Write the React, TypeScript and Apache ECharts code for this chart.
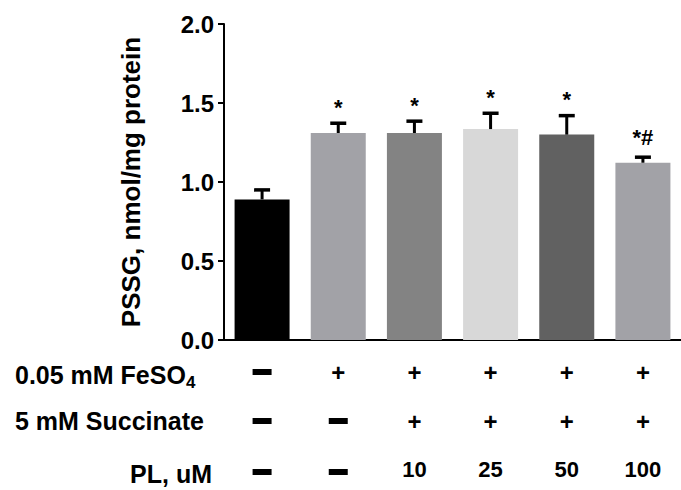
import React, { useEffect, useRef } from 'react';
import * as echarts from 'echarts';

const categories = ['Control', 'FeSO4', 'FeSO4+Succ+PL10', 'FeSO4+Succ+PL25', 'FeSO4+Succ+PL50', 'FeSO4+Succ+PL100'];
const means = [0.89, 1.31, 1.31, 1.335, 1.3, 1.122];
const sems = [0.06, 0.062, 0.075, 0.1, 0.12, 0.035];
const barColors = ['#000000', '#a2a2a7', '#838383', '#d8d8d8', '#616161', '#a2a2a7'];
const significance = ['', '*', '*', '*', '*', '*#'];
const yMin = 0;
const yMax = 2;
const yInterval = 0.5;
const feso4Row = ['-', '+', '+', '+', '+', '+'];
const succinateRow = ['-', '-', '+', '+', '+', '+'];
const plRow = ['-', '-', '10', '25', '50', '100'];
const yAxisTitle = 'PSSG, nmol/mg protein';
const rowLabels = ['0.05 mM FeSO{sub|4}', '5 mM Succinate', 'PL, uM'];

const FONT = "'Liberation Sans', Arial, Helvetica, sans-serif";

export default function App() {
  const ref = useRef<HTMLDivElement>(null);

  useEffect(() => {
    document.body.style.margin = '0';
    const chart = echarts.init(ref.current!, null, { renderer: 'svg' });
    chart.setOption({
      animation: false,
      backgroundColor: '#ffffff',
      grid: { left: 224, top: 24, width: 464, height: 316, containLabel: false },
      xAxis: {
        type: 'category',
        data: categories,
        axisLine: { lineStyle: { color: '#000', width: 2 } },
        axisTick: { alignWithLabel: true, length: 7, lineStyle: { color: '#000', width: 2 } },
        axisLabel: { show: false },
        splitLine: { show: false },
      },
      yAxis: {
        type: 'value',
        min: yMin,
        max: yMax,
        interval: yInterval,
        name: yAxisTitle,
        nameLocation: 'middle',
        nameGap: 80,
        nameTextStyle: { fontSize: 26, fontWeight: 'bold', color: '#000', fontFamily: FONT },
        axisLine: { show: true, lineStyle: { color: '#000', width: 2 } },
        axisTick: { show: true, length: 6, lineStyle: { color: '#000', width: 2 } },
        axisLabel: {
          margin: 10,
          fontSize: 24,
          fontWeight: 'bold',
          color: '#000',
          fontFamily: FONT,
          formatter: (v: number) => v.toFixed(1),
        },
        splitLine: { show: false },
      },
      series: [
        {
          type: 'bar',
          barWidth: 55,
          data: means.map((v, i) => ({ value: v, itemStyle: { color: barColors[i] } })),
          z: 2,
        },
        {
          type: 'custom',
          z: 5,
          data: means.map((m, i) => [i, m, sems[i]]),
          encode: { x: 0, y: 1 },
          renderItem: (params: any, api: any) => {
            const i = api.value(0);
            const m = api.value(1);
            const e = api.value(2);
            const base = api.coord([i, m]);
            const top = api.coord([i, m + e]);
            const x = base[0];
            const children: any[] = [
              { type: 'line', shape: { x1: x, y1: base[1], x2: x, y2: top[1] }, style: { stroke: '#000', lineWidth: 3 } },
              { type: 'line', shape: { x1: x - 8, y1: top[1], x2: x + 8, y2: top[1] }, style: { stroke: '#000', lineWidth: 3.5 } },
            ];
            const sig = significance[i];
            if (sig) {
              children.push({
                type: 'text',
                x,
                y: top[1] - (sig.length > 1 ? 20 : 16),
                style: {
                  text: sig,
                  fontSize: 22,
                  fontWeight: 'bold',
                  fontFamily: FONT,
                  fill: '#000',
                  align: 'center',
                  verticalAlign: 'middle',
                },
              });
            }
            return { type: 'group', children };
          },
        },
      ],
    });

    const xs = categories.map((c) => chart.convertToPixel({ xAxisIndex: 0 }, c) as number);
    const graphics: any[] = [];
    const rows = [
      { values: feso4Row, symY: 372, labelY: 375, label: rowLabels[0], align: 'left', labelX: 15 },
      { values: succinateRow, symY: 421, labelY: 421, label: rowLabels[1], align: 'left', labelX: 15 },
      { values: plRow, symY: 469, labelY: 474, label: rowLabels[2], align: 'right', labelX: 212 },
    ];
    rows.forEach((row) => {
      graphics.push({
        type: 'text',
        x: row.labelX,
        y: row.labelY,
        style: {
          text: row.label,
          fontSize: 25,
          fontWeight: 'bold',
          fontFamily: FONT,
          fill: '#000',
          align: row.align,
          verticalAlign: 'middle',
          rich: {
            sub: { fontSize: 17, fontWeight: 'bold', fontFamily: FONT, fill: '#000', padding: [14, 0, 0, 0] },
          },
        },
      });
      row.values.forEach((v, i) => {
        const x = xs[i];
        if (v === '-') {
          graphics.push({
            type: 'rect',
            shape: { x: x - 9.5, y: row.symY - 3 + (row.symY > 450 ? 3 : 0), width: 19, height: 6 },
            style: { fill: '#000' },
          });
        } else {
          graphics.push({
            type: 'text',
            x,
            y: row.symY,
            style: {
              text: v,
              fontSize: v === '+' ? 24 : 22,
              fontWeight: 'bold',
              fontFamily: FONT,
              fill: '#000',
              align: 'center',
              verticalAlign: 'middle',
            },
          });
        }
      });
    });
    chart.setOption({ graphic: graphics });

    return () => chart.dispose();
  }, []);

  return <div ref={ref} style={{ width: 681, height: 490 }} />;
}
